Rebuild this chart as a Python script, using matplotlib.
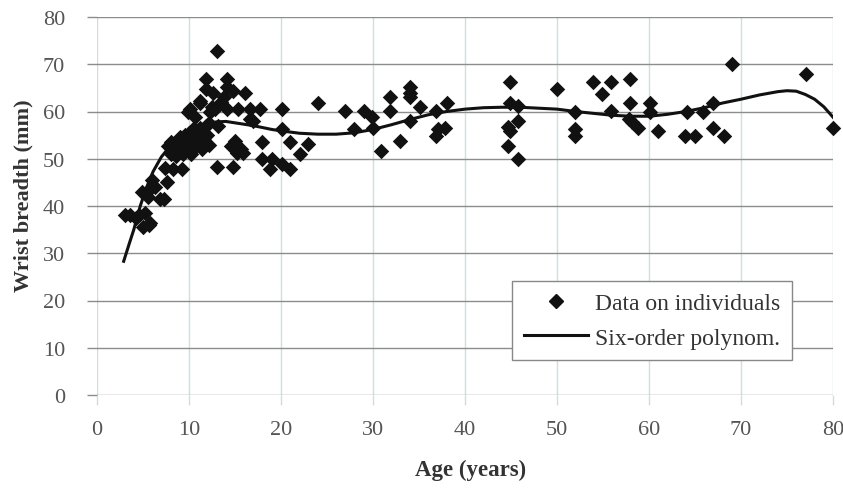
import matplotlib
matplotlib.use("Agg")
import matplotlib.pyplot as plt
from matplotlib.lines import Line2D

# ---- data ----
ages = [3.0, 3.6, 4.2, 4.6, 5.2, 5.0, 5.6, 5.8, 4.9, 5.5, 5.8, 6.0, 6.3, 6.8, 7.3, 7.6, 7.4,
        7.7, 8.0, 8.3, 9.2,
        8.0, 8.2, 8.4, 8.6, 8.8, 9.0, 9.0, 9.3, 9.5, 9.6, 9.8, 10.0, 10.0, 10.2, 10.4, 10.5,
        10.6, 10.8, 11.0, 11.2, 11.4, 11.6, 11.8, 12.0, 12.2, 12.2, 9.9, 10.7, 11.2, 12.3,
        10.1, 11.2, 11.9, 11.9, 12.6, 13.0, 13.2, 12.8, 13.0, 14.1, 14.1, 14.8, 16.1, 14.1,
        15.3, 16.6, 17.7, 20.1, 16.6, 15.0, 15.2, 14.8, 14.6, 15.6, 17.9, 17.0, 21.0, 22.9,
        22.1, 15.9, 17.9, 19.0, 18.8, 20.1, 21.0, 20.1, 13.5, 12.5, 13.8,
        24.0, 27.0, 29.0, 29.9, 30.0, 27.9, 30.9, 32.9, 31.8, 31.8, 34.0, 34.0, 34.0, 34.0,
        35.1, 36.9, 38.0, 37.8, 37.1, 36.9,
        44.9, 44.9, 45.8, 45.8, 44.7, 44.9, 44.7, 45.8,
        50.0, 52.0, 52.0, 52.0, 53.9, 55.9, 54.9, 57.9, 57.9, 55.9, 57.8, 58.1, 58.8,
        60.1, 60.1, 61.0, 64.1, 63.9, 65.0, 65.9, 67.0, 67.0, 68.1, 69.0, 77.1, 80.0]
breadth = [38.0, 38.0, 37.5, 38.0, 38.5, 35.5, 36.0, 36.5, 43.0, 42.0, 43.5, 45.5, 44.0, 41.5,
           41.5, 45.0, 48.0,
           52.8, 53.5, 47.8, 47.8,
           51.0, 52.0, 53.0, 50.5, 52.0, 53.0, 54.5, 51.0, 53.0, 55.0, 52.0, 53.5, 55.5, 51.0,
           54.0, 56.5, 52.5, 55.0, 53.5, 56.5, 52.0, 54.0, 57.0, 55.0, 53.0, 57.5, 59.8, 58.8,
           61.9, 59.8, 60.5, 62.3, 66.9, 64.8, 64.0, 72.9, 57.0, 60.5, 48.2, 66.9, 65.1, 64.4,
           64.0, 60.5, 60.5, 60.5, 60.5, 60.5, 58.4, 53.8, 51.3, 48.2, 52.8, 52.0, 53.5, 58.0,
           53.5, 53.1, 51.0, 51.3, 49.9, 49.9, 47.8, 48.9, 47.8, 56.3, 62.0, 61.0, 63.0,
           61.9, 60.2, 60.2, 58.8, 56.6, 56.3, 51.7, 53.8, 63.0, 60.2, 65.1, 64.0, 63.0, 58.0,
           60.9, 60.2, 61.9, 56.6, 56.3, 54.9,
           66.2, 61.9, 61.2, 58.0, 56.7, 55.9, 52.8, 49.9,
           64.8, 59.8, 56.3, 54.9, 66.2, 66.2, 63.7, 66.9, 61.9, 60.2, 58.4, 57.7, 56.6,
           61.9, 59.8, 55.9, 59.8, 54.9, 54.9, 59.8, 61.9, 56.6, 54.9, 70.0, 67.9, 56.6]

# six-order polynomial trend line
curve_x = [2.9, 3.5, 4.0, 4.7, 5.4, 6.1, 7.0, 8.0, 9.0, 10.0, 11.0, 12.0, 13.0, 14.0, 15.0,
           16.0, 17.0, 18.0, 19.0, 20.0, 22.0, 24.0, 26.0, 28.0, 30.0, 32.0, 34.0, 36.0,
           38.0, 40.0, 42.0, 44.0, 46.0, 48.0, 50.0, 52.0, 54.0, 56.0, 58.0, 60.0, 62.0,
           64.0, 66.0, 68.0, 70.0, 72.0, 74.0, 75.0, 76.0, 77.0, 78.0, 79.0, 80.0]
curve_y = [28.3, 32.0, 35.0, 40.0, 44.0, 47.3, 50.4, 52.8, 54.5, 55.8, 56.8, 57.5, 57.8,
           57.9, 57.6, 57.3, 57.0, 56.6, 56.2, 55.9, 55.4, 55.2, 55.2, 55.5, 56.2, 57.2,
           58.3, 59.3, 60.0, 60.5, 60.8, 60.9, 60.9, 60.7, 60.5, 60.0, 59.6, 59.2, 59.0,
           59.0, 59.4, 60.0, 60.8, 61.8, 62.6, 63.5, 64.2, 64.4, 64.3, 63.6, 62.6, 61.0, 58.8]

xticks = [0, 10, 20, 30, 40, 50, 60, 70, 80]
yticks = [0, 10, 20, 30, 40, 50, 60, 70, 80]

plt.rcParams['font.family'] = ['Liberation Serif', 'DejaVu Serif']

fig = plt.figure(figsize=(8.43, 4.89), dpi=100)
ax = fig.add_axes([97/843, 1-396/489, 736/843, 378/489])

hgrid = '#8c8c8c'
vgrid = '#cde0e0'

ax.set_xlim(0, 80)
ax.set_ylim(0, 80)
ax.set_xticks(xticks)
ax.set_yticks(yticks)
for s in ax.spines.values():
    s.set_visible(False)
ax.yaxis.grid(True, color=hgrid, lw=1.0)
ax.xaxis.grid(True, color=vgrid, lw=1.0)
ax.set_axisbelow(True)
ax.tick_params(axis='y', length=7, width=1.0, color=hgrid, pad=16,
               labelsize=16, labelcolor='#555555')
ax.tick_params(axis='x', length=7, width=1.0, color=vgrid, pad=11,
               labelsize=16, labelcolor='#555555')

ax.scatter(ages, breadth, marker='D', s=62, color='#111111', lw=0, zorder=3,
           clip_on=False)
ax.plot(curve_x, curve_y, color='#111111', lw=2.2, zorder=4,
        solid_joinstyle='round')

ax.set_ylabel('Wrist breadth (mm)', fontsize=16, fontweight='bold', color='#333333')
ax.yaxis.set_label_coords(-0.1, 0.53)
ax.set_xlabel('Age (years)', fontsize=16.5, fontweight='bold', color='#333333')
ax.xaxis.set_label_coords(0.508, -0.196)
ax.xaxis.label.set_va('center')
ax.yaxis.label.set_va('center')

handles = [Line2D([], [], marker='D', ms=7.5, color='#111111', lw=0),
           Line2D([], [], color='#111111', lw=2.2)]
leg = ax.legend(handles, ['Data on individuals', 'Six-order polynom.'],
                loc='upper left', bbox_to_anchor=(0.564, 0.302), borderaxespad=0,
                fontsize=17, frameon=True, fancybox=False, framealpha=1,
                edgecolor='#888888', handlelength=2.7, handletextpad=0.3,
                labelspacing=0.55, borderpad=0.5, labelcolor='#333333')
leg.get_frame().set_linewidth(1.0)

fig.savefig('out.png', dpi=100)
